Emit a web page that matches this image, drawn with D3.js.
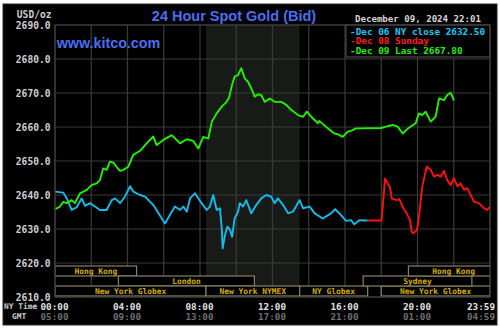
<!DOCTYPE html>
<html>
<head>
<meta charset="utf-8">
<script src="https://cdn.jsdelivr.net/npm/d3@7"></script>
<style>
  html, body { margin: 0; padding: 0; background: #ffffff; }
  svg { display: block; }
  .mono { font-family: "DejaVu Sans Mono", "Liberation Mono", monospace; font-weight: bold; }
</style>
</head>
<body>
<svg id="chart" width="500" height="329"></svg>
<script>
// ---- data -------------------------------------------------------------
// [hour of NY day, price USD/oz]
const dec06Close = [
  [0.00,2641.0],[0.46,2640.7],[0.65,2639.0],[0.92,2635.6],[1.20,2636.4],[1.47,2639.0],
  [1.66,2636.8],[1.93,2637.6],[2.21,2636.6],[2.48,2635.6],[2.85,2635.6],[3.13,2638.5],
  [3.31,2639.0],[3.59,2637.6],[3.86,2639.5],[4.14,2642.6],[4.32,2641.0],[4.69,2640.0],
  [4.97,2639.5],[5.42,2637.1],[5.89,2633.1],[6.07,2631.6],[6.34,2634.1],[6.62,2636.6],
  [6.90,2635.6],[7.08,2636.6],[7.27,2635.1],[7.45,2639.0],[7.72,2640.5],[8.09,2637.6],
  [8.37,2635.6],[8.55,2636.6],[8.73,2640.0],[8.92,2635.6],[9.10,2636.1],[9.20,2630.2],
  [9.25,2624.3],[9.38,2628.2],[9.51,2630.7],[9.66,2629.7],[9.77,2627.7],[9.91,2633.1],
  [10.10,2635.1],[10.19,2637.6],[10.37,2636.6],[10.55,2638.5],[10.83,2634.6],[11.11,2637.1],
  [11.38,2639.0],[11.66,2640.0],[11.93,2639.5],[12.12,2637.6],[12.30,2639.0],[12.58,2637.1],
  [12.86,2634.6],[13.13,2635.1],[13.50,2638.5],[13.68,2636.1],[14.05,2636.6],[14.33,2634.6],
  [14.62,2633.6],[14.77,2633.1],[15.05,2634.0],[15.23,2634.6],[15.46,2635.8],[15.78,2634.1],
  [16.06,2632.4],[16.33,2632.6],[16.51,2631.4],[16.79,2632.6],[17.00,2632.5],[17.25,2632.5]
];
const dec08Sunday = [
  [17.25,2632.5],[18.02,2632.5],[18.21,2644.9],[18.35,2643.4],[18.48,2642.4],[18.58,2639.0],
  [18.85,2638.5],[19.00,2638.8],[19.22,2636.1],[19.40,2634.6],[19.59,2632.6],[19.68,2629.2],
  [19.77,2628.7],[19.96,2629.7],[20.04,2631.7],[20.08,2633.6],[20.26,2642.4],[20.51,2648.4],
  [20.73,2647.4],[20.91,2645.4],[21.09,2645.9],[21.28,2645.4],[21.46,2647.1],[21.64,2644.4],
  [21.83,2642.9],[22.01,2644.9],[22.20,2642.6],[22.38,2643.4],[22.57,2641.5],[22.75,2642.0],
  [22.93,2640.0],[23.12,2638.0],[23.39,2637.6],[23.67,2636.1],[23.85,2635.6],[24.00,2636.6]
];
const dec09Last = [
  [0.00,2635.8],[0.28,2636.6],[0.46,2638.0],[0.65,2637.6],[0.92,2638.5],[1.10,2637.6],
  [1.38,2640.5],[1.75,2641.5],[2.02,2642.9],[2.30,2643.4],[2.48,2644.4],[2.66,2647.8],
  [2.85,2647.4],[3.03,2649.8],[3.22,2649.5],[3.40,2648.3],[3.59,2647.1],[3.77,2647.4],
  [4.04,2648.3],[4.32,2651.8],[4.69,2653.0],[5.06,2655.2],[5.42,2657.2],[5.61,2654.7],
  [5.98,2656.2],[6.44,2657.6],[6.62,2656.7],[6.90,2655.2],[7.27,2656.4],[7.63,2655.9],
  [7.91,2653.7],[8.18,2657.1],[8.46,2656.6],[8.65,2661.5],[8.92,2664.0],[9.20,2666.0],
  [9.47,2667.4],[9.60,2668.6],[9.77,2672.4],[9.91,2674.8],[10.10,2675.3],[10.28,2677.3],
  [10.47,2674.3],[10.65,2673.3],[10.83,2671.4],[11.02,2668.9],[11.20,2669.6],[11.38,2669.4],
  [11.57,2667.4],[11.85,2668.4],[12.12,2667.4],[12.49,2667.4],[12.76,2666.5],[13.04,2665.0],
  [13.41,2663.5],[13.68,2663.0],[13.90,2664.5],[14.14,2663.0],[14.51,2661.1],[14.58,2661.8],
  [14.95,2660.1],[15.41,2658.1],[15.60,2657.9],[15.87,2657.1],[16.15,2658.6],[16.39,2659.0],
  [16.61,2659.6],[16.88,2659.6],[17.99,2659.7],[18.26,2660.1],[18.63,2660.6],[18.91,2660.1],
  [19.18,2658.1],[19.48,2659.6],[19.90,2661.1],[20.08,2664.0],[20.26,2663.5],[20.45,2664.5],
  [20.73,2661.6],[21.00,2663.0],[21.19,2668.4],[21.46,2667.9],[21.64,2669.4],[21.83,2670.1],
  [22.01,2667.8]
];

const priceTicks = [2610, 2620, 2630, 2640, 2650, 2660, 2670, 2680, 2690];
const nyTimeTicks = [0, 4, 8, 12, 16, 20, 24];
const nyTimeLabels = ["00:00", "04:00", "08:00", "12:00", "16:00", "20:00", "23:59"];
const gmtLabels = ["05:00", "09:00", "13:00", "17:00", "21:00", "01:00", "04:59"];

const legendLabels = ["-Dec 06 NY close 2632.50", "-Dec 08 Sunday", "-Dec 09 Last 2667.80"];

// trading sessions: [name, start hour, end hour, row]
const sessions = [
  ["Hong Kong",        0.0,   4.5,  0],
  ["London",           3.5,  11.0,  1],
  ["New York Globex",  0.0,  8.333, 2],
  ["New York NYMEX",   8.333, 13.5, 2],
  ["NY Globex",       13.5,  17.25, 2],
  ["New York Globex", 18.0,  24.0,  2],
  ["Sydney",          17.0,  23.0,  1],
  ["Hong Kong",       19.5,  24.5,  0]
];
const pitHours = [8.333, 13.5];

// ---- layout -----------------------------------------------------------
const svg = d3.select("#chart");
const L = 55, R = 490, T = 25, B = 297;

const x = d3.scaleLinear().domain([0, 24]).range([L, R]);
const y = d3.scaleLinear().domain([2610, 2690]).range([B, T]);

// outer frame
svg.append("rect").attr("x", 3).attr("y", 4).attr("width", 494).attr("height", 321)
  .attr("fill", "#000000").attr("stroke", "#2a2a2a");

svg.append("defs").append("clipPath").attr("id", "plotClip")
  .append("rect").attr("x", L).attr("y", T).attr("width", R - L).attr("height", B - T);

// NYMEX pit session shading
svg.append("rect")
  .attr("x", x(pitHours[0])).attr("y", T)
  .attr("width", x(pitHours[1]) - x(pitHours[0])).attr("height", B - T)
  .attr("fill", "#171a17");

// grid
const grid = svg.append("g").attr("stroke", "#3b3b3b").attr("stroke-width", 1.2);
grid.selectAll("line.h").data(priceTicks).join("line")
  .attr("x1", L).attr("x2", R).attr("y1", d => y(d)).attr("y2", d => y(d));
grid.selectAll("line.v").data(d3.range(0, 25, 2)).join("line")
  .attr("y1", T).attr("y2", B).attr("x1", d => x(d)).attr("x2", d => x(d));

// session bars
const rowTop = [266, 276, 286], rowH = 10;
const sess = svg.append("g").attr("clip-path", "url(#plotClip)");
sess.selectAll("rect").data(sessions).join("rect")
  .attr("x", d => x(d[1])).attr("y", d => rowTop[d[3]])
  .attr("width", d => x(d[2]) - x(d[1])).attr("height", rowH)
  .attr("fill", "#000000").attr("stroke", "#8a8262").attr("stroke-width", 1.2);
sess.selectAll("text").data(sessions).join("text")
  .attr("class", "mono")
  .attr("x", d => (x(d[1]) + x(d[2])) / 2).attr("y", d => rowTop[d[3]] + rowH / 2 + 0.5)
  .attr("text-anchor", "middle").attr("dominant-baseline", "central")
  .attr("font-size", 7.9).attr("font-weight", "normal").attr("fill", "#d8ae00")
  .text(d => d[0]);

// price lines
const line = d3.line().x(d => x(d[0])).y(d => y(d[1]));
const lines = svg.append("g").attr("clip-path", "url(#plotClip)")
  .attr("fill", "none").attr("stroke-width", 1.9).attr("stroke-linejoin", "round");
lines.append("path").datum(dec06Close).attr("d", line).attr("stroke", "#12bcec");
lines.append("path").datum(dec08Sunday).attr("d", line).attr("stroke", "#ff1010");
lines.append("path").datum(dec09Last).attr("d", line).attr("stroke", "#22f000");

// legend box
const lg = svg.append("g");
lg.append("rect").attr("x", 346).attr("y", T).attr("width", R - 346).attr("height", 32)
  .attr("fill", "#000000").attr("stroke", "#4a4a4a").attr("stroke-width", 1.2);
lg.selectAll("text").data(legendLabels).join("text")
  .attr("class", "mono")
  .attr("x", 350).attr("y", (d, i) => 31 + i * 9.8)
  .attr("dominant-baseline", "central").attr("font-size", 9.35)
  .attr("fill", (d, i) => ["#19c8f5", "#ff1a1a", "#22f000"][i])
  .text(d => d);

// plot border
svg.append("rect").attr("x", L).attr("y", T).attr("width", R - L).attr("height", B - T)
  .attr("fill", "none").attr("stroke", "#3b3b3b").attr("stroke-width", 1.2);

// price axis labels
const yAxis = d3.axisLeft(y).tickValues(priceTicks).tickSize(0).tickPadding(4)
  .tickFormat(d3.format(".1f"));
const ya = svg.append("g").attr("transform", `translate(${L - 0.5},0)`).call(yAxis);
ya.select(".domain").remove();
ya.selectAll("text").attr("class", "mono").attr("font-size", 9.6).attr("fill", "#cfcfcf")
  .attr("dy", "0.35em").attr("dx", 0);

svg.append("text").attr("class", "mono").attr("x", 51.5).attr("y", 14.7)
  .attr("text-anchor", "end").attr("dominant-baseline", "central")
  .attr("font-size", 9.6).attr("fill", "#cfcfcf").text("USD/oz");

// time axis labels
const xa = svg.append("g");
xa.selectAll("text.ny").data(nyTimeTicks).join("text")
  .attr("class", "mono")
  .attr("x", (d, i) => i === nyTimeTicks.length - 1 ? 495 : x(d) - 0.5)
  .attr("y", 306.7).attr("dominant-baseline", "central")
  .attr("text-anchor", (d, i) => i === nyTimeTicks.length - 1 ? "end" : "middle")
  .attr("font-size", 9.3).attr("fill", "#e2e2e2")
  .text((d, i) => nyTimeLabels[i]);
xa.selectAll("text.gmt").data(nyTimeTicks).join("text")
  .attr("class", "mono")
  .attr("x", (d, i) => i === nyTimeTicks.length - 1 ? 495 : x(d) - 0.5)
  .attr("y", 316.7).attr("dominant-baseline", "central")
  .attr("text-anchor", (d, i) => i === nyTimeTicks.length - 1 ? "end" : "middle")
  .attr("font-size", 9.3).attr("fill", "#6e6e6e")
  .text((d, i) => gmtLabels[i]);

svg.append("text").attr("class", "mono").attr("x", 4).attr("y", 306.7)
  .attr("dominant-baseline", "central").attr("font-size", 7.9).attr("font-weight", "normal")
  .attr("fill", "#cfcfcf").text("NY Time");
svg.append("text").attr("class", "mono").attr("x", 12).attr("y", 316.7)
  .attr("dominant-baseline", "central").attr("font-size", 7.9).attr("font-weight", "normal")
  .attr("fill", "#cfcfcf").text("GMT");

// headings
svg.append("text").attr("x", 234).attr("y", 20.7).attr("text-anchor", "middle")
  .attr("font-family", "'Liberation Sans', Arial, sans-serif").attr("font-weight", "bold")
  .attr("font-size", 14.5).attr("fill", "#4a6ef0").text("24 Hour Spot Gold (Bid)");
svg.append("text").attr("x", 56.7).attr("y", 47.7)
  .attr("font-family", "'Liberation Sans', Arial, sans-serif").attr("font-weight", "bold")
  .attr("font-size", 14.3).attr("fill", "#4a6ef0").text("www.kitco.com");
svg.append("text").attr("class", "mono").attr("x", 355).attr("y", 19.3)
  .attr("dominant-baseline", "central").attr("font-size", 9.1).attr("fill", "#d4d4d4")
  .text("December 09, 2024 22:01");
</script>
</body>
</html>
